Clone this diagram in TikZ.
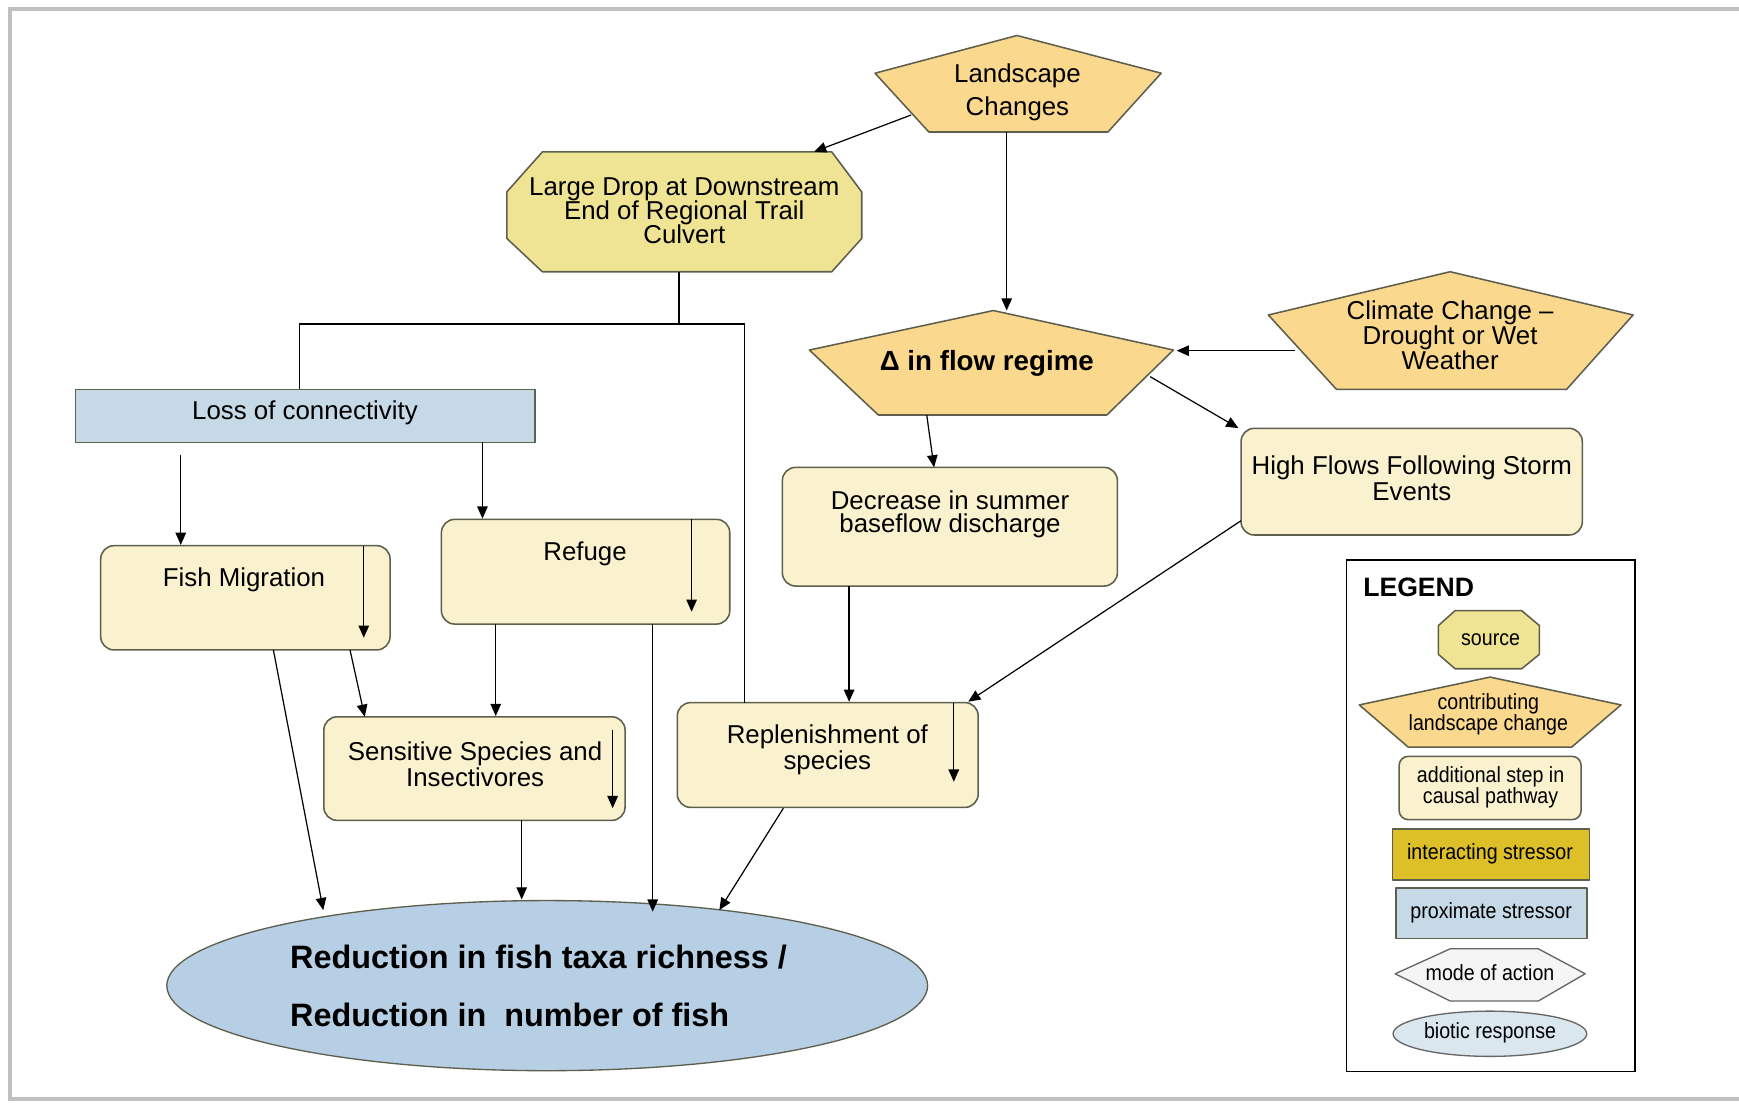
\documentclass[tikz,border=0pt]{standalone}
\usepackage{fontspec}
\usepackage{graphicx}
\setmainfont{Liberation Sans}
\usetikzlibrary{arrows.meta,calc}
\definecolor{pent}{RGB}{250,217,142}
\definecolor{octa}{RGB}{239,227,148}
\definecolor{cream}{RGB}{250,242,206}
\definecolor{lossblue}{RGB}{197,217,230}
\definecolor{ellblue}{RGB}{182,207,228}
\definecolor{gold}{RGB}{221,191,40}
\definecolor{modefill}{RGB}{245,245,245}
\definecolor{bioblue}{RGB}{218,231,238}
\definecolor{edgec}{RGB}{95,95,78}
\definecolor{framegray}{RGB}{192,192,192}
\newcommand{\lgs}[1]{\scalebox{1}[1.12]{#1}}
\newcommand{\tightls}{\lineskiplimit-40pt\relax}
\begin{document}
\begin{tikzpicture}[x=1pt,y=-1pt,
  shp/.style={draw=edgec, line width=1.4pt, line join=round},
  pentS/.style={shp, fill=pent},
  octS/.style={shp, fill=octa},
  box/.style={shp, fill=cream, rounded corners=12pt, inner sep=0pt},
  lbox/.style={shp, fill=cream, rounded corners=8pt, inner sep=0pt},
  rbox/.style={shp, rounded corners=0pt, inner sep=0pt},
  arr/.style={-{Triangle[length=11pt,width=9.5pt]}, line width=1.1pt},
  ln/.style={line width=1.1pt},
  txt/.style={font=\fontsize{23.3}{22.5}\selectfont\tightls, align=center, inner sep=0pt},
  ltxt/.style={font=\fontsize{17.7}{19}\selectfont\tightls, align=center, inner sep=0pt},
  btxt/.style={font=\bfseries\fontsize{29.2}{30}\selectfont, inner sep=0pt, anchor=west}
]
\useasboundingbox (0,0) rectangle (1568,999);
\fill[white] (0,0) rectangle (1568,999);
\draw[framegray, line width=3pt] (9,8) rectangle (1590,991);

% ---------- shapes ----------
% Landscape Changes
\draw[pentS] (917,32) -- (1047,66) -- (999,119) -- (837.5,119) -- (789,66) -- cycle;
\node[txt, font=\fontsize{23.3}{30}\selectfont] (land) at (917.4,83.3) {Landscape\\Changes};
% Large Drop
\draw[octS] (489,137) -- (750,137) -- (777,173) -- (777,215) -- (750,245) -- (489,245) -- (457,215) -- (457,173) -- cycle;
\node[txt, font=\fontsize{23.3}{21.9}\selectfont\tightls] (drop) at (617,190) {Large Drop at Downstream\\End of Regional Trail\\Culvert};
% Delta in flow regime
\draw[pentS] (895.7,280) -- (1058,315.6) -- (998,374.2) -- (792,374.2) -- (729.8,315.6) -- cycle;
\node[inner sep=0pt, font=\bfseries\fontsize{25}{25}\selectfont] (flow) at (889.8,328) {Δ in flow regime};
% Climate change
\draw[pentS] (1307.5,245) -- (1472.5,284) -- (1412.6,351) -- (1205,351) -- (1143.6,284) -- cycle;
\node[txt] (clim) at (1307.5,302) {Climate Change –\\Drought or Wet\\Weather};
% Loss of connectivity
\node[rbox, fill=lossblue, minimum width=414.2pt, minimum height=47.8pt] (loss) at (275.3,374.9) {};
\node[txt] (lossT) at (275,372.5) {Loss of connectivity};
% Rounded boxes
\node[box, minimum width=260.9pt, minimum height=94pt] (fish) at (221.25,539) {};
\node[txt] (fishT) at (220,523) {Fish Migration};
\node[box, minimum width=260pt, minimum height=94.4pt] (ref) at (528,515.5) {};
\node[txt] (refT) at (527.5,499) {Refuge};
\node[box, minimum width=271.6pt, minimum height=93.4pt] (sens) at (427.8,693) {};
\node[txt, font=\fontsize{23.3}{24}\selectfont\tightls] (sensT) at (428.4,689) {Sensitive Species and\\Insectivores};
\node[box, minimum width=302.1pt, minimum height=107pt] (dec) at (856.45,474.9) {};
\node[txt, font=\fontsize{23.3}{21.3}\selectfont\tightls] (decT) at (856.6,463.7) {Decrease in summer\\baseflow discharge};
\node[box, minimum width=271.3pt, minimum height=94.5pt] (rep) at (746.35,680.75) {};
\node[txt, font=\fontsize{23.3}{24}\selectfont\tightls] (repT) at (746,676) {Replenishment of\\species};
\node[box, minimum width=307.7pt, minimum height=96.2pt] (high) at (1272.85,434.3) {};
\node[txt, font=\fontsize{23.3}{23}\selectfont\tightls] (highT) at (1273,431) {High Flows Following Storm\\Events};
% Ellipse
\draw[shp, line width=1.2pt, fill=ellblue] (493.4,888.7) ellipse [x radius=343, y radius=76.7];
\coordinate (ell) at (493.4,888.7);
\node[btxt] (red1) at (261.5,862.6) {Reduction in fish taxa richness /};
\node[btxt] (red2) at (261.5,915) {Reduction in\ \ number of fish};

% ---------- connectors ----------
\coordinate (landA) at (821.5,103.7);
\coordinate (dropA) at (734,136.8);
\draw[arr] (landA) -- (dropA);
\coordinate (landB) at (907.7,119);
\coordinate (flowA) at (907.7,280);
\draw[arr] (landB) -- (flowA);
\coordinate (climA) at (1167.7,316.2);
\coordinate (flowB) at (1061,316.2);
\draw[arr] (climA) -- (flowB);
\coordinate (flowC) at (835.6,374.2);
\coordinate (decA) at (842.2,421.4);
\draw[arr] (flowC) -- (decA);
\coordinate (flowD) at (1037,339.6);
\coordinate (highA) at (1116.6,386);
\draw[arr] (flowD) -- (highA);
\coordinate (highB) at (1119,469.5);
\coordinate (repA) at (873,632.7);
\draw[arr] (highB) -- (repA);
% Large drop branches
\coordinate (dropB) at (612.3,245);
\coordinate (junc) at (612.3,292.2);
\coordinate (lossA) at (269.7,351);
\coordinate (repB) at (671.4,633.5);
\draw[ln] (dropB) -- (junc);
\draw[ln] (lossA) |- (junc) -| (repB);
% Loss to boxes
\coordinate (lossB) at (163,410);
\draw[arr] (lossB) -- (lossB |- fish.north);
\coordinate (lossC) at (435,398.8);
\draw[arr] (lossC) -- (lossC |- ref.north);
% inner arrows
\coordinate (fishI) at (328,492);
\draw[arr] (fishI) -- ++(0,83);
\coordinate (refI) at (623.6,468.3);
\draw[arr] (refI) -- ++(0,83.3);
\coordinate (sensI) at (552.4,658);
\draw[arr] (sensI) -- ++(0,70.7);
\coordinate (repI) at (860,633.5);
\draw[arr] (repI) -- ++(0,71.3);
% refuge to sensitive
\coordinate (refB) at (447,562.7);
\draw[arr] (refB) -- (refB |- sens.north);
% fish to sensitive
\coordinate (fishB) at (315.6,586);
\coordinate (sensA) at (328.9,646.3);
\draw[arr] (fishB) -- (sensA);
% to ellipse
\coordinate (fishC) at (246.5,586);
\coordinate (ellA) at (291.5,820.6);
\draw[arr] (fishC) -- (ellA);
\coordinate (sensB) at (470.4,739.7);
\coordinate (ellB) at (470.4,811);
\draw[arr] (sensB) -- (ellB);
\coordinate (refC) at (588.5,562.7);
\coordinate (ellC) at (588.5,822);
\draw[arr] (refC) -- (ellC);
\coordinate (decB) at (765.6,528.4);
\draw[arr] (decB) -- (decB |- rep.north);
\coordinate (repC) at (706.3,728.8);
\coordinate (ellD) at (648.6,820.6);
\draw[arr] (repC) -- (ellD);

% ---------- legend ----------
\draw[black, line width=1.2pt] (1214.3,505) rectangle (1474.3,966);
\node[inner sep=0pt, anchor=west, font=\bfseries\fontsize{24}{24}\selectfont] (legT) at (1229,530) {LEGEND};
\draw[octS] (1312,550.6) -- (1372,550.6) -- (1388,564) -- (1388,590) -- (1372,603) -- (1312,603) -- (1297,590) -- (1297,564) -- cycle;
\node[ltxt] (lsrc) at (1344,576.7) {\lgs{source}};
\draw[pentS] (1343.5,610.5) -- (1461.6,635.6) -- (1417,673.7) -- (1269.8,673.7) -- (1225.6,635.6) -- cycle;
\node[ltxt] (lcon) at (1342,644) {\lgs{contributing}\\\lgs{landscape change}};
\node[lbox, minimum width=164pt, minimum height=57pt] (lstep) at (1343.6,710.5) {};
\node[ltxt] (lstepT) at (1344,710) {\lgs{additional step in}\\\lgs{causal pathway}};
\node[rbox, fill=gold, minimum width=177.4pt, minimum height=46.1pt] (lint) at (1344.3,770.45) {};
\node[ltxt] (lintT) at (1343.5,769.5) {\lgs{interacting stressor}};
\node[rbox, fill=lossblue, minimum width=172.2pt, minimum height=45.8pt] (lprox) at (1344.7,823.5) {};
\node[ltxt] (lproxT) at (1344.5,822.8) {\lgs{proximate stressor}};
\draw[draw=gray!80!black, line width=1.2pt, fill=modefill, line join=round] (1258,878) -- (1307.6,855.5) -- (1387,855.5) -- (1429.3,878) -- (1387,902.6) -- (1307.6,902.6) -- cycle;
\node[ltxt] (lmode) at (1343.5,877.4) {\lgs{mode of action}};
\draw[draw=gray!80!black, line width=1.2pt, fill=bioblue] (1343.4,932.1) ellipse [x radius=87.3, y radius=20.4];
\node[ltxt] (lbio) at (1343.5,931.3) {\lgs{biotic response}};
\end{tikzpicture}
\end{document}
